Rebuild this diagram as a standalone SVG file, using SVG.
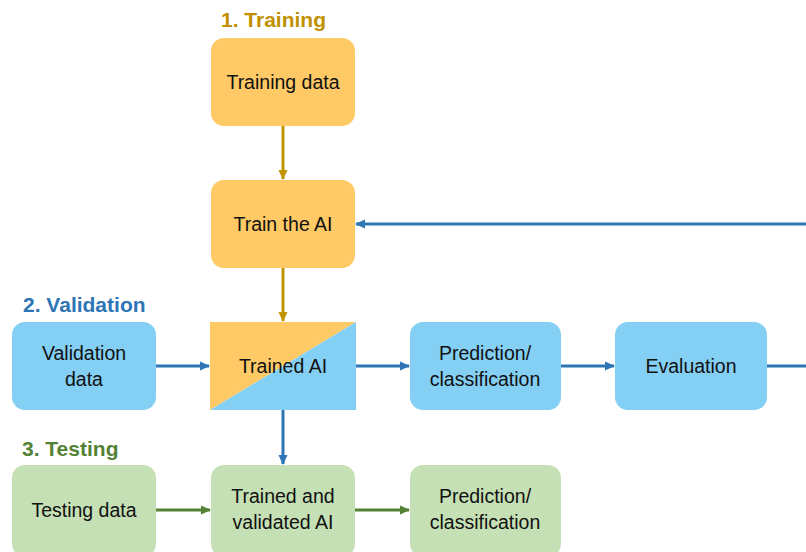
<svg xmlns="http://www.w3.org/2000/svg" width="806" height="552" viewBox="0 0 806 552">
<style>
.t{font-family:"Liberation Sans",Arial,sans-serif;font-size:19.5px;fill:#111;text-anchor:middle}
.h{font-family:"Liberation Sans",Arial,sans-serif;font-size:21px;font-weight:bold}
.or{fill:#FFCA66}
.bl{fill:#84CFF4}
.gr{fill:#C5E0B4}
.cg{stroke:#C09400;stroke-width:3;fill:none}
.cb{stroke:#2E75B6;stroke-width:3;fill:none}
.cgr{stroke:#548235;stroke-width:3;fill:none}
</style>
<defs>
<marker id="ag" markerWidth="11" markerHeight="11" refX="9" refY="5.5" orient="auto" markerUnits="userSpaceOnUse"><path d="M0,1 L10,5.5 L0,10 Z" fill="#C09400"/></marker>
<marker id="ab" markerWidth="11" markerHeight="11" refX="9" refY="5.5" orient="auto" markerUnits="userSpaceOnUse"><path d="M0,1 L10,5.5 L0,10 Z" fill="#2E75B6"/></marker>
<marker id="agr" markerWidth="11" markerHeight="11" refX="9" refY="5.5" orient="auto" markerUnits="userSpaceOnUse"><path d="M0,1 L10,5.5 L0,10 Z" fill="#548235"/></marker>
</defs>
<rect width="806" height="552" fill="#fff"/>
<text class="h" x="221" y="27" fill="#BF9000">1. Training</text>
<text class="h" x="23" y="312" fill="#2E75B6">2. Validation</text>
<text class="h" x="22" y="456" fill="#548235">3. Testing</text>
<g id="connectors">
<line class="cg" x1="283" y1="126" x2="283" y2="179" marker-end="url(#ag)"/>
<line class="cg" x1="283" y1="268" x2="283" y2="321" marker-end="url(#ag)"/>
<line class="cb" x1="156" y1="366" x2="209" y2="366" marker-end="url(#ab)"/>
<line class="cb" x1="356" y1="366" x2="409" y2="366" marker-end="url(#ab)"/>
<line class="cb" x1="561" y1="366" x2="614" y2="366" marker-end="url(#ab)"/>
<line class="cb" x1="767" y1="366" x2="806" y2="366"/>
<line class="cb" x1="806" y1="224" x2="356" y2="224" marker-end="url(#ab)"/>
<line class="cb" x1="283" y1="410" x2="283" y2="464" marker-end="url(#ab)"/>
<line class="cgr" x1="156" y1="510" x2="210" y2="510" marker-end="url(#agr)"/>
<line class="cgr" x1="355" y1="510" x2="409" y2="510" marker-end="url(#agr)"/>
</g>
<g id="training-data"><rect class="or" x="211" y="38" width="144" height="88" rx="13"/><text class="t" x="283" y="89">Training data</text></g>
<g id="train-ai"><rect class="or" x="211" y="180" width="144" height="88" rx="13"/><text class="t" x="283" y="231">Train the AI</text></g>
<g id="trained-ai"><polygon class="or" points="210,322 356,322 210,410"/><polygon class="bl" points="356,322 356,410 210,410"/><text class="t" x="283" y="373">Trained AI</text></g>
<g id="validation-data"><rect class="bl" x="12" y="322" width="144" height="88" rx="13"/><text class="t" x="84" y="360">Validation</text><text class="t" x="84" y="386">data</text></g>
<g id="prediction-val"><rect class="bl" x="410" y="322" width="151" height="88" rx="13"/><text class="t" x="485" y="360">Prediction/</text><text class="t" x="485" y="386">classification</text></g>
<g id="evaluation"><rect class="bl" x="615" y="322" width="152" height="88" rx="13"/><text class="t" x="691" y="373">Evaluation</text></g>
<g id="testing-data"><rect class="gr" x="12" y="465" width="144" height="92" rx="13"/><text class="t" x="84" y="517">Testing data</text></g>
<g id="trained-validated-ai"><rect class="gr" x="211" y="465" width="144" height="92" rx="13"/><text class="t" x="283" y="503">Trained and</text><text class="t" x="283" y="529">validated AI</text></g>
<g id="prediction-test"><rect class="gr" x="410" y="465" width="151" height="92" rx="13"/><text class="t" x="485" y="503">Prediction/</text><text class="t" x="485" y="529">classification</text></g>
</svg>
